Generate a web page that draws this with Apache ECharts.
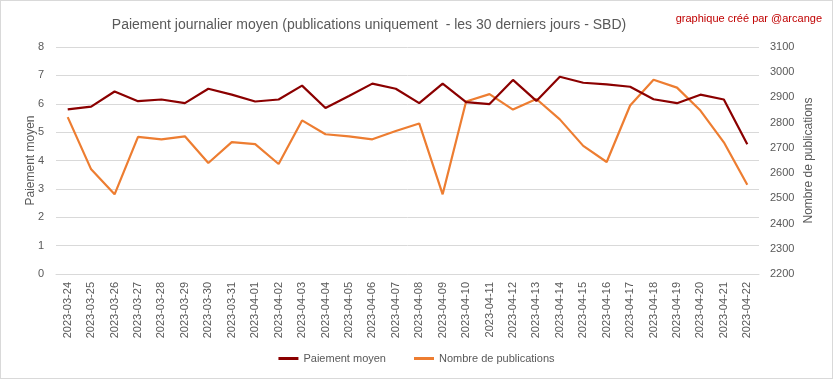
<!DOCTYPE html>
<html><head><meta charset="utf-8">
<script src="https://cdn.jsdelivr.net/npm/echarts@6/dist/echarts.min.js"></script>
<style>html,body{margin:0;padding:0;background:#fff}#c{width:831px;height:377px;border:1px solid #d9d9d9}</style>
</head><body><div id="c"></div>
<script>
const categories = ['2023-03-24','2023-03-25','2023-03-26','2023-03-27','2023-03-28','2023-03-29','2023-03-30','2023-03-31','2023-04-01','2023-04-02','2023-04-03','2023-04-04','2023-04-05','2023-04-06','2023-04-07','2023-04-08','2023-04-09','2023-04-10','2023-04-11','2023-04-12','2023-04-13','2023-04-14','2023-04-15','2023-04-16','2023-04-17','2023-04-18','2023-04-19','2023-04-20','2023-04-21','2023-04-22'];
const paiementMoyen = [5.80,5.90,6.43,6.09,6.15,6.02,6.53,6.32,6.08,6.15,6.64,5.85,6.27,6.71,6.53,6.02,6.71,6.06,5.99,6.84,6.10,6.95,6.74,6.68,6.60,6.16,6.02,6.32,6.15,4.57];
const nombrePublications = [2822,2615,2516,2744,2734,2746,2640,2723,2715,2636,2809,2754,2746,2734,2767,2797,2516,2884,2913,2852,2894,2813,2708,2644,2868,2970,2939,2848,2722,2554];
const FONT = 'Liberation Sans';
const chart = echarts.init(document.getElementById('c'));
chart.setOption({
  animation:false,
  textStyle:{fontFamily:FONT},
  title:[
    {text:'Paiement journalier moyen (publications uniquement  - les 30 derniers jours - SBD)',left:363,textAlign:'center',top:12,textStyle:{fontSize:14,fontWeight:'normal',color:'#595959',fontFamily:FONT}},
    {text:'graphique créé par @arcange',right:5,top:7,textStyle:{fontSize:11,fontWeight:'normal',color:'#c00000',fontFamily:FONT}}
  ],
  legend:{bottom:9,left:'center',itemWidth:20,itemHeight:3,itemGap:28,icon:'rect',textStyle:{fontSize:11,color:'#595959'},data:['Paiement moyen','Nombre de publications']},
  grid:{left:55,right:73,top:46,bottom:104,containLabel:false},
  xAxis:{type:'category',data:categories,boundaryGap:true,
    axisLine:{lineStyle:{color:'#d9d9d9'}},axisTick:{show:false},
    axisLabel:{rotate:90,fontSize:11,color:'#595959',interval:0,margin:8}},
  yAxis:[
    {type:'value',min:0,max:8,interval:1,name:'Paiement moyen',nameLocation:'middle',nameGap:19,nameRotate:90,nameMoveOverlap:false,
      nameTextStyle:{fontSize:12,color:'#595959'},axisLabel:{fontSize:11,color:'#595959',margin:12},
      splitLine:{lineStyle:{color:'#d9d9d9'}},axisLine:{show:false},axisTick:{show:false}},
    {type:'value',min:2200,max:3100,interval:100,name:'Nombre de publications',nameLocation:'middle',nameGap:44,nameRotate:90,nameMoveOverlap:false,
      nameTextStyle:{fontSize:12,color:'#595959'},axisLabel:{fontSize:11,color:'#595959',margin:11,formatter:function(v){return String(v);}},
      splitLine:{show:false},axisLine:{show:false},axisTick:{show:false}}
  ],
  series:[
    {name:'Paiement moyen',type:'line',yAxisIndex:0,data:paiementMoyen,symbol:'none',lineStyle:{width:2.2,color:'#8b0000'},itemStyle:{color:'#8b0000'},z:3},
    {name:'Nombre de publications',type:'line',yAxisIndex:1,data:nombrePublications,symbol:'none',lineStyle:{width:2.2,color:'#ed7d31'},itemStyle:{color:'#ed7d31'},z:2}
  ]
});
</script></body></html>
